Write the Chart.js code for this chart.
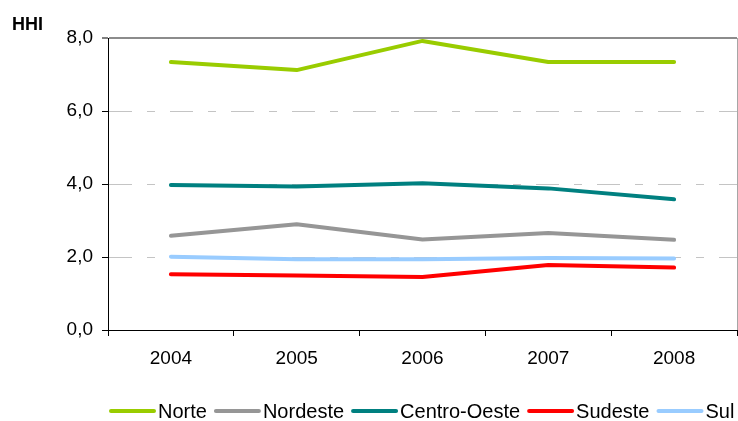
<!DOCTYPE html>
<html lang="pt-BR">
<head>
<meta charset="UTF-8" />
<title>HHI por região, 2004–2008</title>
<style>
  body{margin:0;background:#fff;}
  #wrap{width:738px;height:421px;position:relative;}
</style>
<script src="https://cdn.jsdelivr.net/npm/chart.js@4.4.0/dist/chart.umd.min.js"></script>
</head>
<body>
<div id="wrap"><canvas id="hhiChart"></canvas></div>

<script>
// ===== dados =====
const years       = ['2004','2005','2006','2007','2008'];
const norte       = [7.34, 7.12, 7.92, 7.34, 7.34];
const nordeste    = [2.58, 2.90, 2.48, 2.66, 2.47];
const centroOeste = [3.97, 3.93, 4.02, 3.88, 3.58];
const sudeste     = [1.53, 1.49, 1.45, 1.78, 1.71];
const sul         = [2.01, 1.94, 1.94, 1.97, 1.96];

const FONT = '"Liberation Sans", Arial, sans-serif';

const serie = (label, data, color) => ({
  label, data,
  borderColor: color,
  backgroundColor: color,
  borderWidth: 4,
  borderCapStyle: 'round',
  borderJoinStyle: 'round',
  pointRadius: 0,
  tension: 0,
  fill: false
});

// rótulo "HHI" acima do eixo y
const hhiLabel = {
  id: 'hhiLabel',
  afterDraw(chart){
    const ctx = chart.ctx;
    ctx.save();
    ctx.font = 'bold 18px ' + FONT;
    ctx.fillStyle = '#000';
    ctx.textBaseline = 'alphabetic';
    ctx.fillText('HHI', 12, 30);
    ctx.restore();
  }
};

// legenda em linha, abaixo do eixo x
const lineLegend = {
  id: 'lineLegend',
  afterDraw(chart){
    const ctx = chart.ctx;
    const y = 411;
    let x = 110;
    ctx.save();
    ctx.font = '20px ' + FONT;
    ctx.textBaseline = 'middle';
    chart.data.datasets.forEach(ds => {
      ctx.strokeStyle = ds.borderColor;
      ctx.lineWidth = 4;
      ctx.lineCap = 'round';
      ctx.beginPath();
      ctx.moveTo(x + 1, y);
      ctx.lineTo(x + 44, y);
      ctx.stroke();
      x += 48;
      ctx.fillStyle = '#000';
      ctx.fillText(ds.label, x, y + 1);
      x += ctx.measureText(ds.label).width + 8;
    });
    ctx.restore();
  }
};

new Chart(document.getElementById('hhiChart'), {
  type: 'line',
  data: {
    labels: years,
    datasets: [
      serie('Norte', norte, '#99cc00'),
      serie('Nordeste', nordeste, '#969696'),
      serie('Centro-Oeste', centroOeste, '#008080'),
      serie('Sudeste', sudeste, '#ff0000'),
      serie('Sul', sul, '#99ccff')
    ]
  },
  options: {
    responsive: true,
    maintainAspectRatio: false,
    animation: false,
    layout: {padding: {top: 38, right: 1, bottom: 51, left: 0}},
    plugins: {
      legend: {display: false},
      tooltip: {enabled: false}
    },
    scales: {
      x: {
        offset: true,
        afterFit(scale){ scale.height = 40; },
        grid: {
          offset: true,
          drawOnChartArea: true,
          color: c => c.type === 'scale' ? '#a6a6a6' : 'transparent',
          tickColor: '#000',
          tickLength: 6,
          tickWidth: 1
        },
        border: {color: '#000', width: 1},
        ticks: {
          color: '#000',
          padding: 11,
          maxRotation: 0,
          font: {family: FONT, size: 19}
        }
      },
      y: {
        min: 0,
        max: 8,
        afterFit(scale){ scale.width = 108; },
        grid: {
          color: c => c.tick.value === 8 ? '#8c8c8c' : (c.tick.value === 0 ? 'transparent' : '#c4c4c4'),
          lineWidth: c => c.tick.value === 8 ? 2 : 1,
          tickColor: '#000',
          tickWidth: 1,
          tickLength: 6
        },
        border: {
          color: '#000',
          width: 1,
          dash: c => (c.tick && c.tick.value === 8) ? [] : [23, 15, 8, 15]
        },
        ticks: {
          stepSize: 2,
          color: '#000',
          padding: 9,
          font: {family: FONT, size: 19},
          callback: v => v.toFixed(1).replace('.', ',')
        }
      }
    }
  },
  plugins: [hhiLabel, lineLegend]
});
</script>
</body>
</html>
